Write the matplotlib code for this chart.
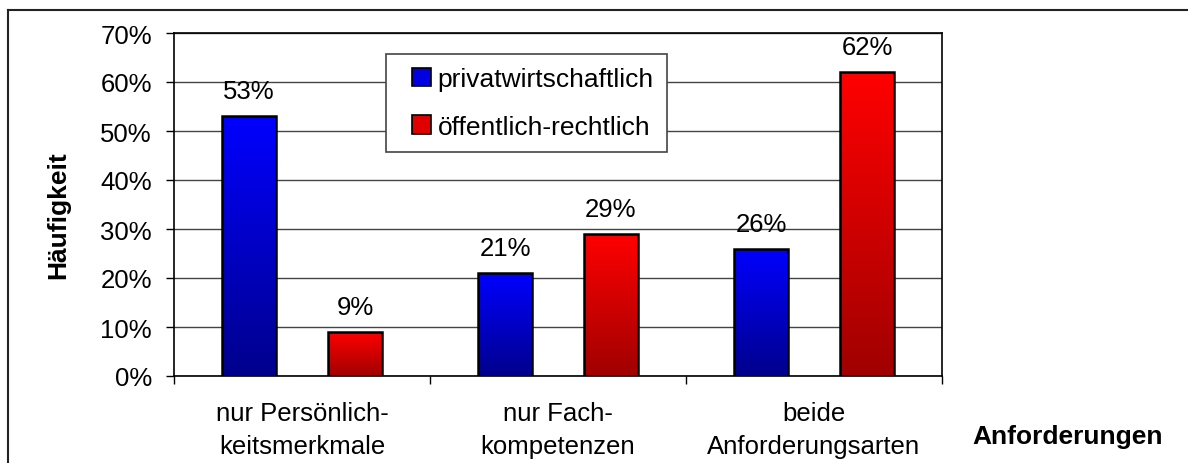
import numpy as np
import matplotlib
matplotlib.use('Agg')
import matplotlib.pyplot as plt
from matplotlib.colors import LinearSegmentedColormap
from matplotlib.patches import Rectangle
from matplotlib.lines import Line2D
from matplotlib.legend_handler import HandlerPatch

plt.rcParams['font.family'] = ['Liberation Sans', 'DejaVu Sans']

categories = ['nur Persönlich-\nkeitsmerkmale', 'nur Fach-\nkompetenzen', 'beide\nAnforderungsarten']
series = ['privatwirtschaftlich', 'öffentlich-rechtlich']
privat = [53, 21, 26]
oeffentlich = [9, 29, 62]
y_ticks = [0, 10, 20, 30, 40, 50, 60, 70]

FS = 18.5
width = 0.21
offset = 0.207

fig = plt.figure(figsize=(11.88, 4.64), dpi=100)
ax = fig.add_axes([174 / 1188, 1 - 377 / 464, 768 / 1188, 343 / 464])

# outer frame of the chart (cut off at right and bottom)
fig.add_artist(Line2D([8 / 1188, 8 / 1188], [0, 1 - 11 / 464], transform=fig.transFigure,
                      color='#222222', lw=1.5))
fig.add_artist(Line2D([8 / 1188, 1], [1 - 11 / 464, 1 - 11 / 464], transform=fig.transFigure,
                      color='#222222', lw=1.5))

cmaps = [
    LinearSegmentedColormap.from_list('b', ['#00008c', '#0000ff']),
    LinearSegmentedColormap.from_list('r', ['#a00000', '#ff0000']),
]
x = np.arange(len(categories))
grad = np.linspace(0, 1, 256).reshape(-1, 1)

for i, (vals, cm) in enumerate(zip([privat, oeffentlich], cmaps)):
    pos = x + (offset if i else -offset)
    bars = ax.bar(pos, vals, width, color='none', edgecolor='black', linewidth=1.8,
                  zorder=3, label=series[i])
    for b, v in zip(bars, vals):
        x0 = b.get_x()
        im = ax.imshow(grad, cmap=cm, origin='lower', aspect='auto',
                       extent=[x0, x0 + width, 0, v], zorder=2)
        im.set_clip_path(b)
        ax.annotate(f'{v}%', (b.get_x() + width / 2, v), xytext=(0, 13),
                    textcoords='offset points', ha='center', va='baseline',
                    fontsize=FS, zorder=4)

ax.set_xlim(-0.5, 2.5)
ax.set_ylim(0, 70)
ax.set_yticks(y_ticks)
ax.set_yticklabels([f'{t}%' for t in y_ticks])
ax.yaxis.grid(True, color='#444444', linewidth=1.0, zorder=0)
ax.set_axisbelow(True)

ax.set_xticks([-0.5, 0.5, 1.5, 2.5])
ax.set_xticklabels([])
ax.set_xticks(x, minor=True)
ax.set_xticklabels(categories, minor=True, fontsize=FS, linespacing=1.45)
ax.tick_params(axis='x', which='major', length=6, width=1, direction='out')
ax.tick_params(axis='x', which='minor', length=0, pad=18)
ax.tick_params(axis='y', length=6, width=1, direction='out', pad=10, labelsize=FS)

for s in ax.spines.values():
    s.set_color('black')
    s.set_linewidth(1.2)


# legend handles: small squares at the right end of the handle box
def square(legend, orig_handle, xdescent, ydescent, width, height, fontsize):
    return Rectangle((width - height - xdescent, -ydescent), height, height)


handles = [Rectangle((0, 0), 1, 1, facecolor=c, edgecolor='black', linewidth=1.2)
           for c in ['#0000e0', '#e00000']]
leg = ax.legend(handles, series, loc='upper left', bbox_to_anchor=(0.276, 0.939),
                fontsize=19, frameon=True, fancybox=False, framealpha=1,
                edgecolor='#444444', handlelength=1.2, handleheight=0.7,
                handletextpad=0.25, labelspacing=0.9, borderpad=0.5,
                borderaxespad=0,
                handler_map={Rectangle: HandlerPatch(patch_func=square)})
leg.get_frame().set_linewidth(1.2)
leg.set_zorder(5)

fig.text(58 / 1188, 1 - 215 / 464, 'Häufigkeit', rotation=90, ha='center', va='center',
         fontsize=19, fontweight='bold')
fig.text(1068 / 1188, 1 - 437 / 464, 'Anforderungen', ha='center', va='center',
         fontsize=19, fontweight='bold')

fig.savefig('out.png', dpi=100)
